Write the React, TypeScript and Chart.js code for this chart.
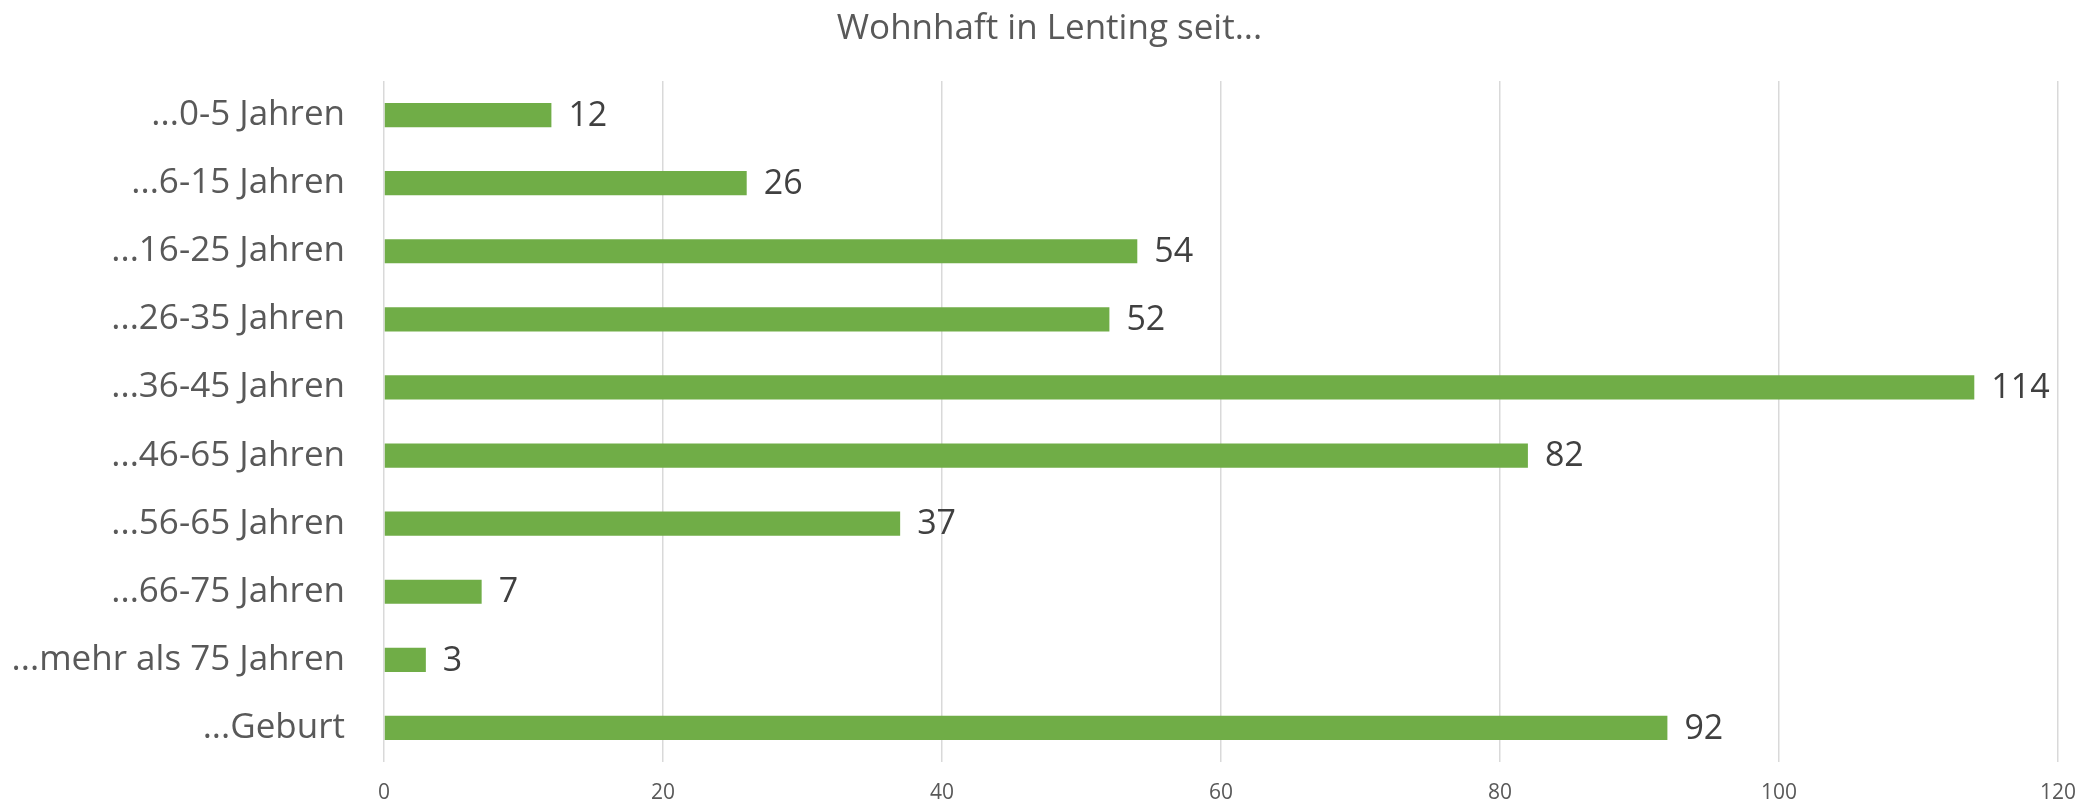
import React, { useEffect, useRef } from "react";
import { Chart, registerables } from "chart.js";

Chart.register(...registerables);

const categories = [
  "...0-5 Jahren",
  "...6-15 Jahren",
  "...16-25 Jahren",
  "...26-35 Jahren",
  "...36-45 Jahren",
  "...46-65 Jahren",
  "...56-65 Jahren",
  "...66-75 Jahren",
  "...mehr als 75 Jahren",
  "...Geburt",
];
const values = [12, 26, 54, 52, 114, 82, 37, 7, 3, 92];
const xTicks = [0, 20, 40, 60, 80, 100, 120];
const titleText = "Wohnhaft in Lenting seit...";

const FONT = "'Open Sans', 'Noto Sans', sans-serif";

const valueLabels = {
  id: "valueLabels",
  afterDatasetsDraw(chart: any) {
    const ctx = chart.ctx;
    const meta = chart.getDatasetMeta(0);
    ctx.save();
    ctx.font = `34px ${FONT}`;
    ctx.fillStyle = "#404040";
    ctx.textAlign = "left";
    ctx.textBaseline = "middle";
    meta.data.forEach((bar: any, i: number) => {
      ctx.fillText(String(values[i]), bar.x + 17, bar.y + 1);
    });
    ctx.restore();
  },
};

export default function App() {
  const ref = useRef<HTMLCanvasElement | null>(null);
  useEffect(() => {
    document.body.style.margin = "0";
    const canvas = ref.current!;
    const chart = new Chart(canvas, {
      type: "bar",
      data: {
        labels: categories,
        datasets: [
          {
            data: values,
            backgroundColor: "#70AD47",
            borderWidth: 0,
            categoryPercentage: 1,
            barPercentage: 0.355,
          },
        ],
      },
      options: {
        indexAxis: "y",
        responsive: false,
        animation: false,
        devicePixelRatio: 1,
        layout: { padding: { left: 0, right: 0, top: 0, bottom: 0 } },
        plugins: {
          legend: { display: false },
          tooltip: { enabled: false },
          title: {
            display: true,
            text: titleText,
            color: "#595959",
            font: { family: FONT, size: 35, weight: "normal", lineHeight: 1.2 },
            padding: { top: 8, bottom: 31 },
          },
        },
        scales: {
          x: {
            min: 0,
            max: 120,
            afterBuildTicks: (scale: any) => {
              scale.ticks = xTicks.map((v) => ({ value: v }));
            },
            afterFit: (scale: any) => {
              scale.height = 42;
              scale.paddingRight = 41;
            },
            grid: { color: "#d9d9d9", lineWidth: 1.5, drawTicks: false },
            border: { display: false },
            ticks: {
              color: "#595959",
              font: { family: FONT, size: 21, lineHeight: 1.2 },
              padding: 18,
              maxRotation: 0,
            },
          },
          y: {
            afterFit: (scale: any) => {
              scale.width = 384;
              scale.paddingTop = 0;
              scale.paddingBottom = 0;
            },
            grid: { display: false, drawTicks: false },
            border: { display: false },
            ticks: {
              color: "#595959",
              font: { family: FONT, size: 35, lineHeight: 1.2 },
              padding: 39,
            },
          },
        },
      },
      plugins: [valueLabels],
    });
    return () => chart.destroy();
  }, []);
  return (
    <div style={{ width: 2099, height: 804 }}>
      <canvas ref={ref} width={2099} height={804} style={{ display: "block" }} />
    </div>
  );
}
